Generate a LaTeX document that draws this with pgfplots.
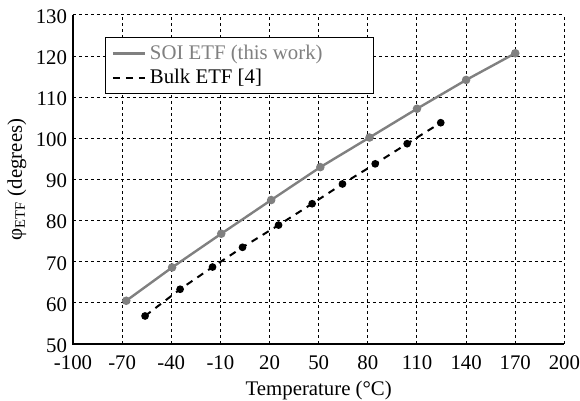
\documentclass[border=0pt]{standalone}
\usepackage{fontspec}
\setmainfont{Liberation Serif}
\usepackage{pgfplots}
\pgfplotsset{compat=1.18}
\definecolor{soigray}{RGB}{128,128,128}
\begin{document}
\fontsize{10.4}{12}\selectfont
\begin{tikzpicture}
\begin{axis}[
  scale only axis,
  width=245.75pt, height=164.5pt,
  xmin=-100, xmax=200, ymin=50, ymax=130,
  xtick={-100,-70,-40,-10,20,50,80,110,140,170,200},
  ytick={50,60,...,130},
  axis line style={draw=none},
  tick pos=left,
  tick style={black, line width=0.5pt},
  tick align=inside,
  major tick length=1.5pt,
  grid=major,
  major grid style={black, line width=0.5pt, dash pattern=on 1.5pt off 1.5pt},
  /pgf/number format/assume math mode=true,
  ticklabel style={font=\fontsize{10.4}{12}\selectfont, inner sep=0pt},
  xticklabel style={yshift=-5.8pt},
  yticklabel style={xshift=-2.8pt, yshift=-0.8pt},
  label style={font=\fontsize{10.4}{12}\selectfont, inner sep=0pt},
  xlabel={Temperature (°C)},
  ylabel={φ\textsubscript{ETF} (degrees)},
  xlabel style={yshift=-5.6pt},
  ylabel style={yshift=4.5pt},
  legend style={at={(0.0655,0.932)}, anchor=north west, draw=black, line width=0.5pt,
    font=\fontsize{10.4}{12}\selectfont, inner xsep=3pt, inner ysep=1.5pt,
    row sep=-0.5pt, cells={anchor=west}},
  legend image code/.code={\draw[#1, mark=none] (0cm,0cm) -- (0.56cm,0cm);},
  after end axis/.code={
    \draw[black, line width=0.8pt] (rel axis cs:0,1) -- (rel axis cs:0,0) -- (rel axis cs:1,0);
    \path (rel axis cs:0,1) ++(-36.5pt,7.5pt);
    \path (rel axis cs:1,0) ++(7.7pt,0pt);
  },
]
\addplot[soigray, line width=1.2pt, mark=*, mark size=1.5pt, mark options={solid, fill=soigray, draw=soigray}]
coordinates {(-67.5,60.5) (-39.5,68.6) (-9.5,76.8) (21,85.0) (51,93.0) (81,100.2) (110,107.2) (140,114.2) (170,120.7)};
\addlegendentry{\makebox[107pt][l]{\textcolor{soigray}{SOI ETF (this work)}}}
\addplot[black, line width=1pt, dash pattern=on 3.5pt off 3pt, mark=*, mark size=1.4pt, mark options={solid, fill=black}]
coordinates {(-56,56.8) (-34.6,63.3) (-14.8,68.7) (3.5,73.5) (25.5,78.9) (46,84.1) (64.5,88.9) (84.5,93.8) (104,98.7) (124.5,103.8)};
\addlegendentry{Bulk ETF [4]}
\end{axis}
\end{tikzpicture}
\end{document}
